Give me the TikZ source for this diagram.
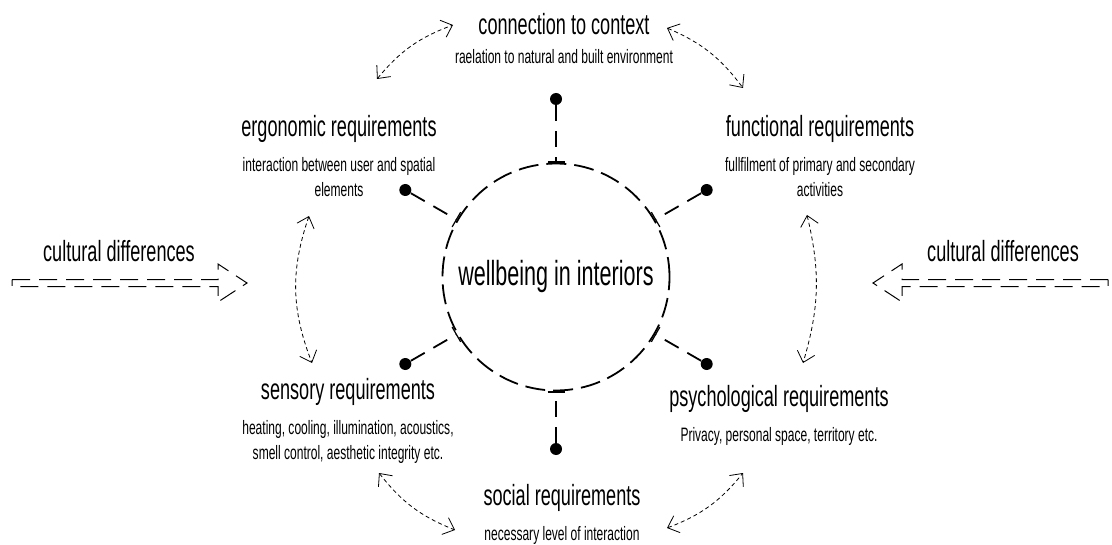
\documentclass[tikz,border=0pt]{standalone}
\usepackage{fontspec}
\setmainfont{Liberation Sans}[FakeStretch=0.62]
\usepackage{tikz}
\usetikzlibrary{positioning}
\usetikzlibrary{calc}
\usetikzlibrary{arrows.meta}
\tikzset{hub/.style={
		circle,
		draw,
		line width=0.9pt,
		dash pattern=on 10pt off 4pt,
		minimum size=113.5pt,
		inner sep=0pt,
		font=\fontsize{17.4}{20}\selectfont,
	}
}
\tikzset{ball/.style={
		circle,
		fill=black,
		minimum size=6pt,
		inner sep=0pt,
	}
}
\tikzset{spoke/.style={
		draw,
		line width=0.9pt,
		dash pattern=on 8pt off 5pt,
		-{Bar[width=8.5pt,line width=0.6pt]},
	}
}
\tikzset{req/.style={
		inner sep=0pt,
		anchor=north,
		font=\fontsize{14.6}{17}\selectfont,
	}
}
\tikzset{reqsub/.style={
		inner sep=0pt,
		align=center,
		font=\fontsize{9.7}{12.5}\selectfont,
	}
}
\tikzset{link/.style={
		{Straight Barb[length=5pt,width=9pt]}-{Straight Barb[length=5pt,width=9pt]},
		line width=0.4pt,
		dash pattern=on 2pt off 1.5pt,
	}
}
\tikzset{culture/.style={
		line width=0.5pt,
		dash pattern=on 9pt off 4.5pt,
	}
}

\begin{document}
\begin{tikzpicture}[x=0.5pt, y=0.5pt, node distance = 7pt]
\useasboundingbox (0,0) rectangle (1112,-545);

% centre
\node[hub] (hub) at (556,-277) {wellbeing in interiors};

\foreach \name/\ang/\dist in {top/90/178, ul/150/174, ur/30/174, ll/210/174, lr/330/174, bot/270/172}{
	\node[ball] (b-\name) at ($(hub.center)+(\ang:\dist)$) {};
	\draw[spoke] (b-\name) -- (hub);
}

% requirements
\node[req] (context) at (564,-13) {connection to context};
\node[reqsub, below = of context] (contextsub) {raelation to natural and built environment};

\node[req] (ergo) at (339,-115) {ergonomic requirements};
\node[reqsub, below = of ergo] (ergosub) {interaction between user and spatial\\elements};

\node[req] (func) at (820,-115) {functional requirements};
\node[reqsub, below = of func] (funcsub) {fullfilment of primary and secondary\\activities};

\node[req] (sens) at (348,-378) {sensory requirements};
\node[reqsub, below = of sens] (senssub) {heating, cooling, illumination, acoustics,\\smell control, aesthetic integrity etc.};

\node[req] (psych) at (779,-385) {psychological requirements};
\node[reqsub, below = of psych] (psychsub) {Privacy, personal space, territory etc.};

\node[req] (social) at (562,-484) {social requirements};
\node[reqsub, below = of social] (socialsub) {necessary level of interaction};

% cultural differences
\node[req] (cultl) at (119,-240) {cultural differences};
\node[req] (cultr) at (1003,-240) {cultural differences};

\coordinate (cl) at (247,-283);
\coordinate (cr) at (873,-283);
\draw[culture] (cl) ++(-235,3.5) -- ++(206,0) -- ++(0,15.5) -- (cl) -- ++(-29,-19) -- ++(0,15.5) -- ++(-206,0) -- cycle;
\draw[culture] (cr) ++(235,3.5) -- ++(-206,0) -- ++(0,15.5) -- (cr) -- ++(29,-19) -- ++(0,15.5) -- ++(206,0) -- cycle;

% links
\coordinate (ta1) at (377,-79);
\coordinate (ta2) at (453,-25);
\coordinate (tb1) at (667,-28);
\coordinate (tb2) at (743,-88);
\coordinate (lc1) at (309,-216);
\coordinate (lc2) at (312,-363);
\coordinate (rd1) at (807,-215);
\coordinate (rd2) at (803,-363);
\coordinate (be1) at (379,-473);
\coordinate (be2) at (455,-530);
\coordinate (bf1) at (667,-528);
\coordinate (bf2) at (743,-473);

\draw[link] (ta1) to[bend left=15] (ta2);
\draw[link] (tb1) to[bend left=15] (tb2);
\draw[link] (lc1) to[bend right=20] (lc2);
\draw[link] (rd1) to[bend left=15] (rd2);
\draw[link] (be1) to[bend right=15] (be2);
\draw[link] (bf1) to[bend right=15] (bf2);

\end{tikzpicture}
\end{document}
